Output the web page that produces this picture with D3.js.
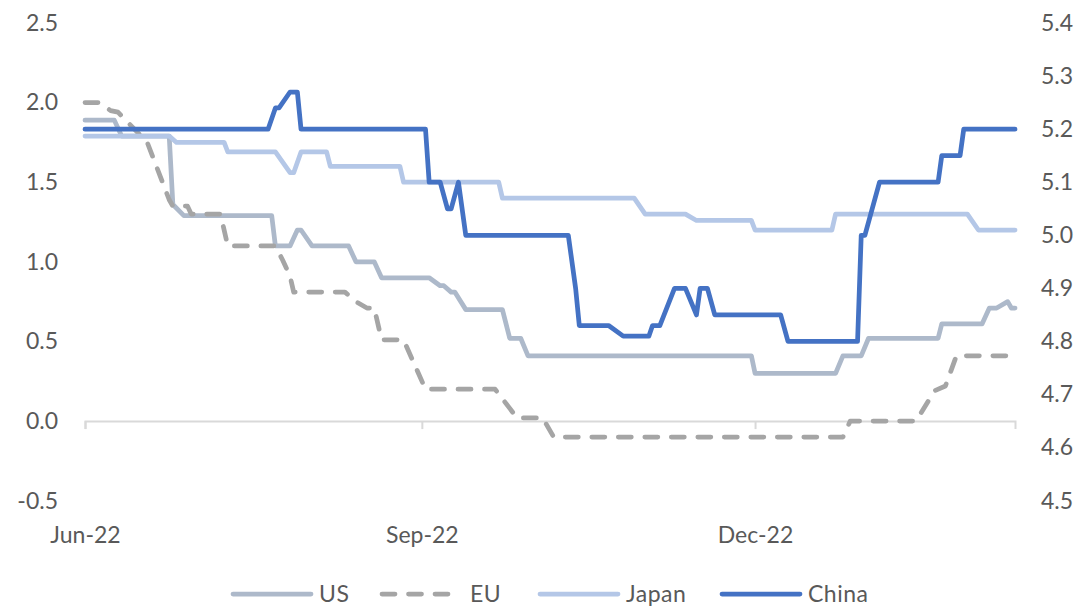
<!DOCTYPE html>
<html lang="en">
<head>
<meta charset="utf-8">
<title>Rates: US, EU, Japan, China</title>
<script src="https://cdn.jsdelivr.net/npm/d3@7"></script>
<style>
  body { margin: 0; background: #fff; }
  svg text { font-family: Lato, "Open Sans", sans-serif; fill: #595959; }
</style>
</head>
<body>
<script>
// series data: [date, value]
var usData = [
  ["2022-06-01", 1.89], ["2022-06-09", 1.89], ["2022-06-11", 1.79], ["2022-06-24", 1.79],
  ["2022-06-25", 1.36], ["2022-06-28", 1.29], ["2022-07-22", 1.29], ["2022-07-23", 1.10],
  ["2022-07-27", 1.10], ["2022-07-29", 1.20], ["2022-07-30", 1.20], ["2022-08-02", 1.10],
  ["2022-08-12", 1.10], ["2022-08-14", 1.00], ["2022-08-19", 1.00], ["2022-08-21", 0.90],
  ["2022-09-03", 0.90], ["2022-09-06", 0.85], ["2022-09-07", 0.85], ["2022-09-09", 0.81],
  ["2022-09-10", 0.81], ["2022-09-13", 0.70], ["2022-09-23", 0.70], ["2022-09-25", 0.52],
  ["2022-09-28", 0.52], ["2022-09-30", 0.41], ["2022-11-30", 0.41], ["2022-12-01", 0.30],
  ["2022-12-23", 0.30], ["2022-12-25", 0.41], ["2022-12-30", 0.41], ["2023-01-01", 0.52],
  ["2023-01-20", 0.52], ["2023-01-21", 0.61], ["2023-02-01", 0.61], ["2023-02-03", 0.71],
  ["2023-02-05", 0.71], ["2023-02-08", 0.75], ["2023-02-09", 0.71], ["2023-02-10", 0.71]
];

var euData = [
  ["2022-06-01", 2.00], ["2022-06-05", 2.00], ["2022-06-08", 1.95], ["2022-06-10", 1.94],
  ["2022-06-18", 1.75], ["2022-06-24", 1.39], ["2022-06-25", 1.35], ["2022-06-29", 1.35],
  ["2022-06-30", 1.30], ["2022-07-08", 1.30], ["2022-07-10", 1.10], ["2022-07-23", 1.10],
  ["2022-07-25", 1.01], ["2022-07-27", 0.91], ["2022-07-28", 0.81], ["2022-08-11", 0.81],
  ["2022-08-14", 0.75], ["2022-08-17", 0.71], ["2022-08-19", 0.71], ["2022-08-21", 0.51],
  ["2022-08-27", 0.51], ["2022-09-02", 0.20], ["2022-09-21", 0.20], ["2022-09-27", 0.02],
  ["2022-10-04", 0.02], ["2022-10-07", -0.10], ["2022-12-25", -0.10], ["2022-12-27", 0.00],
  ["2023-01-14", 0.00], ["2023-01-19", 0.19], ["2023-01-22", 0.22], ["2023-01-25", 0.41],
  ["2023-02-10", 0.41]
];

var japanData = [
  ["2022-06-01", 1.79], ["2022-06-24", 1.79], ["2022-06-26", 1.75], ["2022-07-09", 1.75],
  ["2022-07-10", 1.69], ["2022-07-23", 1.69], ["2022-07-27", 1.56], ["2022-07-28", 1.56],
  ["2022-07-30", 1.69], ["2022-08-06", 1.69], ["2022-08-07", 1.60], ["2022-08-26", 1.60],
  ["2022-08-27", 1.50], ["2022-09-22", 1.50], ["2022-09-23", 1.40], ["2022-10-29", 1.40],
  ["2022-11-01", 1.30], ["2022-11-12", 1.30], ["2022-11-15", 1.26], ["2022-11-30", 1.26],
  ["2022-12-01", 1.20], ["2022-12-22", 1.20], ["2022-12-23", 1.30], ["2023-01-28", 1.30],
  ["2023-01-31", 1.20], ["2023-02-10", 1.20]
];

// China is on the right axis
var chinaData = [
  ["2022-06-01", 5.20], ["2022-07-21", 5.20], ["2022-07-23", 5.24], ["2022-07-24", 5.24],
  ["2022-07-27", 5.27], ["2022-07-29", 5.27], ["2022-07-30", 5.20], ["2022-09-02", 5.20],
  ["2022-09-03", 5.10], ["2022-09-06", 5.10], ["2022-09-08", 5.05], ["2022-09-09", 5.05],
  ["2022-09-11", 5.10], ["2022-09-13", 5.00], ["2022-10-11", 5.00], ["2022-10-13", 4.90],
  ["2022-10-14", 4.83], ["2022-10-22", 4.83], ["2022-10-26", 4.81], ["2022-11-02", 4.81],
  ["2022-11-03", 4.83], ["2022-11-05", 4.83], ["2022-11-09", 4.90], ["2022-11-12", 4.90],
  ["2022-11-15", 4.85], ["2022-11-16", 4.90], ["2022-11-18", 4.90], ["2022-11-20", 4.85],
  ["2022-12-08", 4.85], ["2022-12-10", 4.80], ["2022-12-29", 4.80], ["2022-12-30", 5.00],
  ["2022-12-31", 5.00], ["2023-01-04", 5.10], ["2023-01-20", 5.10], ["2023-01-21", 5.15],
  ["2023-01-26", 5.15], ["2023-01-27", 5.20], ["2023-02-10", 5.20]
];

var leftTicks = [-0.5, 0.0, 0.5, 1.0, 1.5, 2.0, 2.5];
var rightTicks = [4.5, 4.6, 4.7, 4.8, 4.9, 5.0, 5.1, 5.2, 5.3, 5.4];
var xTicks = ["2022-06-01", "2022-09-01", "2022-12-01"];
var seriesNames = ["US", "EU", "Japan", "China"];

var w = 1091, h = 607;
var fontSize = "23px";
var parse = d3.timeParse("%Y-%m-%d");
var oneDecimal = function(d) { return d.toFixed(1); };

var svg = d3.select("body").append("svg")
    .attr("width", w)
    .attr("height", h);

var xScale = d3.scaleTime()
    .domain([parse("2022-06-01"), parse("2023-02-10")])
    .range([85, 1015]);

var yLeft = d3.scaleLinear()
    .domain([-0.5, 2.5])
    .range([500.7, 23]);

var yRight = d3.scaleLinear()
    .domain([4.5, 5.4])
    .range([500.7, 23]);

// horizontal axis line at zero with quarterly ticks
var xAxis = svg.append("g")
    .attr("transform", "translate(0," + yLeft(0) + ")")
    .call(d3.axisBottom(xScale)
        .tickValues(xTicks.map(parse))
        .tickSize(8)
        .tickFormat(""));
xAxis.select(".domain").attr("stroke", "#d9d9d9").attr("stroke-width", 2);
xAxis.selectAll(".tick line").attr("stroke", "#d9d9d9").attr("stroke-width", 2);

// date labels sit low, under the plot
var xLabels = svg.append("g")
    .attr("transform", "translate(0,524)")
    .call(d3.axisBottom(xScale)
        .tickValues(xTicks.map(parse))
        .tickSize(0)
        .tickFormat(d3.timeFormat("%b-%y")));
xLabels.select(".domain").remove();
xLabels.selectAll("text").attr("font-size", fontSize).attr("font-family", "Lato, sans-serif").attr("fill", "#595959");

var leftAxis = svg.append("g")
    .attr("transform", "translate(58,0)")
    .call(d3.axisLeft(yLeft).tickValues(leftTicks).tickSize(0).tickPadding(0)
        .tickFormat(oneDecimal));
leftAxis.select(".domain").remove();
leftAxis.selectAll("text").attr("font-size", fontSize).attr("font-family", "Lato, sans-serif").attr("fill", "#595959");

var rightAxis = svg.append("g")
    .attr("transform", "translate(1041,0)")
    .call(d3.axisRight(yRight).tickValues(rightTicks).tickSize(0).tickPadding(0)
        .tickFormat(oneDecimal));
rightAxis.select(".domain").remove();
rightAxis.selectAll("text").attr("font-size", fontSize).attr("font-family", "Lato, sans-serif").attr("fill", "#595959");

// lines
var lineLeft = d3.line()
    .x(function(d) { return xScale(parse(d[0])); })
    .y(function(d) { return yLeft(d[1]); });

var lineRight = d3.line()
    .x(function(d) { return xScale(parse(d[0])); })
    .y(function(d) { return yRight(d[1]); });

var series = [
  { name: "US", data: usData, line: lineLeft, color: "#adb9ca", dash: null },
  { name: "EU", data: euData, line: lineLeft, color: "#a5a5a5", dash: "13,13.5" },
  { name: "Japan", data: japanData, line: lineLeft, color: "#b4c7e7", dash: null },
  { name: "China", data: chinaData, line: lineRight, color: "#4472c4", dash: null }
];

svg.selectAll("path.series")
   .data(series)
   .enter()
   .append("path")
   .attr("class", "series")
   .attr("d", function(s) { return s.line(s.data); })
   .attr("fill", "none")
   .attr("stroke", function(s) { return s.color; })
   .attr("stroke-width", 4.75)
   .attr("stroke-linejoin", "round")
   .attr("stroke-linecap", "round")
   .attr("stroke-dasharray", function(s) { return s.dash; });

// legend
var legendX = [233, 382, 540, 722];
var legend = svg.selectAll("g.legend")
    .data(series)
    .enter()
    .append("g")
    .attr("class", "legend")
    .attr("transform", function(s, i) { return "translate(" + legendX[i] + ",594)"; });

legend.append("line")
    .attr("x1", 0).attr("x2", 78)
    .attr("y1", 0).attr("y2", 0)
    .attr("stroke", function(s) { return s.color; })
    .attr("stroke-width", 4.75)
    .attr("stroke-linecap", "round")
    .attr("stroke-dasharray", function(s) { return s.dash; });

legend.append("text")
    .attr("x", function(s) { return s.name === "EU" ? 88 : 86; })
    .attr("y", 0)
    .attr("dy", "0.35em")
    .attr("font-size", fontSize)
    .attr("letter-spacing", "0.5px")
    .text(function(s, i) { return seriesNames[i]; });
</script>
</body>
</html>
